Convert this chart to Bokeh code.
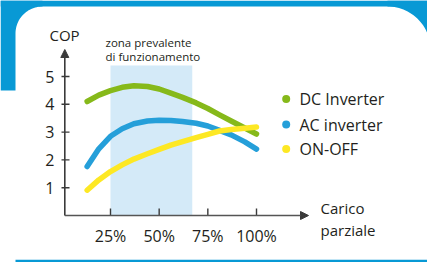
import numpy as np
from bokeh.plotting import figure
from bokeh.models import Range1d, Arrow, NormalHead
from bokeh.core.properties import value
from bokeh.embed import file_html
from bokeh.resources import INLINE

# ---------------- data ----------------
load = [13, 19, 25, 31, 37, 44, 50, 56, 62, 69, 75, 81, 87, 94, 100]
dc_inverter = [4.10, 4.33, 4.49, 4.61, 4.67, 4.64, 4.55, 4.40, 4.25, 4.05, 3.85, 3.62, 3.40, 3.15, 2.93]
ac_inverter = [1.76, 2.40, 2.85, 3.12, 3.30, 3.40, 3.43, 3.42, 3.38, 3.32, 3.22, 3.06, 2.90, 2.65, 2.39]
on_off = [0.91, 1.28, 1.58, 1.82, 2.03, 2.22, 2.38, 2.53, 2.66, 2.80, 2.92, 3.04, 3.09, 3.14, 3.18]
series_names = ["DC Inverter", "AC inverter", "ON-OFF"]
series_colors = ["#86b91a", "#259fd9", "#fde824"]
x_ticks = [25, 50, 75, 100]
x_tick_labels = ["25%", "50%", "75%", "100%"]
y_ticks = [1, 2, 3, 4, 5]
y_tick_labels = ["1", "2", "3", "4", "5"]
zone = [25, 67]
zone_top = 5.4

FONT = value("Open Sans")
BLUE_BG = "#0899d5"

# pixel <-> data helpers (reference pixel geometry)
X0, XS = 61.33, 1.9467   # px of 0 %, px per %
Y0, YS = 215.0, 27.8     # px of COP 0, px per COP unit
def dx(px):
    return (px - X0) / XS
def dy(py):
    return (Y0 - py) / YS

W, H = 427, 262
p = figure(width=W, height=H, output_backend="svg", toolbar_location=None,
           x_range=Range1d(dx(0), dx(W)), y_range=Range1d(dy(H), dy(0)),
           min_border=0, outline_line_color=None, background_fill_color="white",
           border_fill_color="white")
p.axis.visible = False
p.grid.visible = False

# ---- background card decoration ----
th = np.linspace(np.pi, 1.5 * np.pi, 30)
cx, cy, r = 42, 33, 27
arc_x = cx + r * np.cos(th)
arc_y = cy + r * np.sin(th)
poly_x = [0, 0, 15] + list(arc_x) + [cx, cx, 0]
poly_y = [0, 90, 90] + list(arc_y) + [6, 0, 0]
p.patch([dx(v) for v in poly_x], [dy(v) for v in poly_y], color=BLUE_BG, line_color=None)
p.patch([dx(v) for v in [0, 440, 440, 0]], [dy(v) for v in [0, 0, 6, 6]], color=BLUE_BG, line_color=None)
th2 = np.linspace(1.5 * np.pi, 2 * np.pi, 30)
cx2, cy2, r2 = 387, 49, 43
a2x = cx2 + r2 * np.cos(th2)
a2y = cy2 + r2 * np.sin(th2)
poly2_x = list(a2x) + [440, 440, 387]
poly2_y = list(a2y) + [49, 0, 0]
p.patch([dx(v) for v in poly2_x], [dy(v) for v in poly2_y], color=BLUE_BG, line_color=None)
p.quad(left=dx(15), right=dx(440), bottom=dy(261.5), top=dy(259.3), color=BLUE_BG, line_color=None)

# ---- shaded zone ----
p.quad(left=zone[0], right=zone[1], bottom=0, top=zone_top, color="#d4eaf8", line_color=None)

# ---- curves ----
for vals, col in zip([dc_inverter, ac_inverter, on_off], series_colors):
    p.line(load, vals, line_color=col, line_width=5.5, line_cap="round", line_join="round")

# ---- axes ----
AX = "#3a3a3a"
yaxis_x = dx(64.3)
p.add_layout(Arrow(x_start=yaxis_x, y_start=0, x_end=yaxis_x, y_end=dy(49),
                   line_color=AX, line_width=1.6,
                   end=NormalHead(size=8, fill_color=AX, line_color=AX)))
p.add_layout(Arrow(x_start=yaxis_x, y_start=0, x_end=dx(308), y_end=0,
                   line_color="#555555", line_width=1.6,
                   end=NormalHead(size=8, fill_color=AX, line_color=AX)))
p.segment(x0=[dx(61.0)] * len(y_ticks), y0=y_ticks, x1=[dx(69.0)] * len(y_ticks), y1=y_ticks,
          line_color=AX, line_width=1.4)
p.text(x=[dx(54)] * len(y_ticks), y=y_ticks, text=y_tick_labels, text_font=FONT,
       text_font_size="16px", text_align="right", text_baseline="middle", text_color="#231f20")
p.segment(x0=x_ticks, y0=[0] * len(x_ticks), x1=x_ticks, y1=[dy(208)] * len(x_ticks),
          line_color=AX, line_width=1.4)
p.text(x=x_ticks, y=[dy(235)] * len(x_ticks), text=x_tick_labels, text_font=FONT,
       text_font_size="16px", text_align="center", text_baseline="middle", text_color="#231f20")

p.text(x=[dx(64)], y=[dy(34)], text=["COP"], text_font=FONT, text_font_size="15px",
       text_align="center", text_baseline="middle", text_color="#231f20")
p.text(x=[dx(320)] * 2, y=[dy(207), dy(229)], text=["Carico", "parziale"], text_font=FONT,
       text_font_size="15px", text_align="left", text_baseline="middle", text_color="#231f20")
p.text(x=[dx(105)] * 2, y=[dy(41.5), dy(56)], text=["zona prevalente", "di funzionamento"],
       text_font=FONT, text_font_size="11.5px", text_align="left", text_baseline="middle",
       text_color="#231f20")

leg_y = [dy(98.5), dy(124), dy(148.5)]
p.scatter(x=[dx(285.7)] * 3, y=leg_y, size=8, color=series_colors, line_color=None)
p.text(x=[dx(299)] * 3, y=leg_y, text=series_names, text_font=FONT, text_font_size="16px",
       text_align="left", text_baseline="middle", text_color="#231f20")

open("out.html", "w").write(file_html(p, INLINE))
